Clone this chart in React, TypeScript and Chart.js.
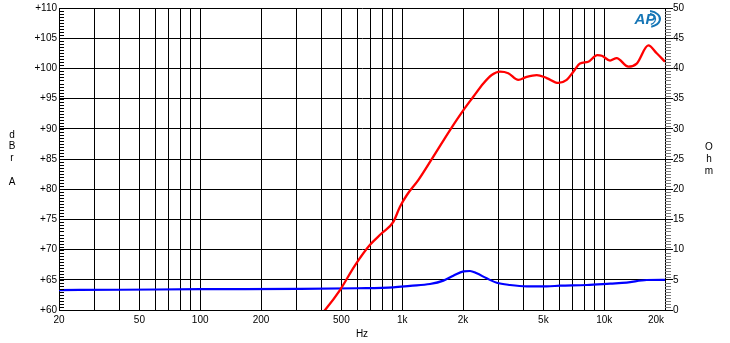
import React, { useEffect, useRef } from "react";
import { Chart, registerables } from "chart.js";

Chart.register(...registerables);

// SPL (dBrA) response
const splFreq = [390, 415, 492, 584, 693, 792, 904, 975, 1053, 1201, 1426, 1725, 2010, 2249, 2522, 2774, 3049, 3350, 3757, 4134, 4636, 5193, 5929, 6521, 7036, 7590, 8345, 9245, 9730, 10690, 11530, 13160, 14490, 16540, 18200, 20000];
const splDb = [59.0, 60.0, 63.3, 67.4, 70.8, 72.7, 74.6, 77.1, 79.0, 81.5, 85.4, 89.8, 93.1, 95.3, 97.5, 98.9, 99.45, 99.2, 98.1, 98.6, 98.9, 98.4, 97.6, 98.1, 99.45, 100.8, 101.1, 102.2, 102.1, 101.3, 101.7, 100.3, 100.8, 103.8, 102.5, 101.1];

// Impedance (Ohm)
const impFreq = [20, 40, 100, 300, 600, 904, 1094, 1373, 1599, 1791, 2010, 2167, 2339, 2620, 2937, 3418, 4134, 5193, 6040, 8190, 10690, 12920, 16240, 20000];
const impOhm = [3.3, 3.35, 3.45, 3.5, 3.6, 3.75, 4.0, 4.3, 4.86, 5.68, 6.4, 6.46, 6.07, 5.24, 4.52, 4.14, 3.92, 3.92, 4.02, 4.14, 4.36, 4.52, 4.97, 5.0];

// Axis ticks
const xGridTicks = [20, 30, 40, 50, 60, 70, 80, 90, 100, 200, 300, 400, 500, 600, 700, 800, 900, 1000, 2000, 3000, 4000, 5000, 6000, 7000, 8000, 9000, 10000, 20000];
const xLabelValues = [20, 50, 100, 200, 500, 1000, 2000, 5000, 10000, 20000];
const xLabelTexts = ["20", "50", "100", "200", "500", "1k", "2k", "5k", "10k", "20k"];
const leftTitle = ["d", "B", "r", " ", "A"];
const rightTitle = ["O", "h", "m"];

const FONT = '10px "Liberation Sans", Arial, sans-serif';

const decorPlugin = {
  id: "decor",
  afterDraw(chart: any) {
    const ctx = chart.ctx;
    const x = chart.scales.x;
    const y = chart.scales.y;
    const y2 = chart.scales.y2;
    const area = chart.chartArea;
    const L = Math.round(area.left);
    const R = Math.round(area.right);
    ctx.save();
    // minor ticks left (inside)
    ctx.fillStyle = "#000";
    for (let i = 0; i <= 100; i++) {
      const v = 60 + i * 0.5;
      const py = Math.round(y.getPixelForValue(v));
      ctx.fillRect(L, py, 5, 1);
    }
    // minor ticks right (outside)
    ctx.fillStyle = "#7a7a7a";
    for (let i = 0; i <= 100; i++) {
      if (i % 10 === 0) continue;
      const v = i * 0.5;
      const py = Math.round(y2.getPixelForValue(v));
      ctx.fillRect(R, py, 6, 1);
    }
    // x labels
    ctx.fillStyle = "#000";
    ctx.font = FONT;
    ctx.textBaseline = "top";
    xLabelValues.forEach((v, i) => {
      const px = x.getPixelForValue(v);
      const last = i === xLabelValues.length - 1;
      ctx.textAlign = last ? "right" : "center";
      ctx.fillText(xLabelTexts[i], last ? px - 1 : px, 315);
    });
    // axis titles
    ctx.textAlign = "center";
    ctx.textBaseline = "middle";
    leftTitle.forEach((c, i) => ctx.fillText(c, 12, 135 + i * 11.7));
    rightTitle.forEach((c, i) => ctx.fillText(c, 709, 147 + i * 12));
    ctx.fillText("Hz", 362, 334);
    // AP logo
    ctx.fillStyle = "#1676b6";
    ctx.strokeStyle = "#1676b6";
    ctx.font = 'italic bold 15px "Liberation Sans", Arial, sans-serif';
    ctx.textAlign = "center";
    ctx.fillText("AP", 645, 19.5);
    ctx.lineWidth = 2;
    ctx.beginPath();
    ctx.ellipse(648, 19, 12, 8, 0, -1.4, 1.3);
    ctx.stroke();
    ctx.lineWidth = 1.2;
    ctx.beginPath();
    ctx.ellipse(647, 19, 8.5, 6, 0, -1.2, 1.1);
    ctx.stroke();
    ctx.restore();
  },
};

export default function App() {
  const ref = useRef<HTMLCanvasElement | null>(null);
  useEffect(() => {
    if (!ref.current) return;
    const chart = new Chart(ref.current, {
      type: "line",
      data: {
        datasets: [
          {
            data: splFreq.map((f, i) => ({ x: f, y: splDb[i] })),
            borderColor: "#ff0000",
            borderWidth: 2.3,
            pointRadius: 0,
            cubicInterpolationMode: "monotone",
            yAxisID: "y",
          },
          {
            data: impFreq.map((f, i) => ({ x: f, y: impOhm[i] })),
            borderColor: "#0000ff",
            borderWidth: 2.2,
            pointRadius: 0,
            cubicInterpolationMode: "monotone",
            yAxisID: "y2",
          },
        ],
      },
      options: {
        responsive: false,
        animation: false,
        layout: { padding: { top: 8, left: 0, right: 0, bottom: 0 } },
        plugins: { legend: { display: false }, tooltip: { enabled: false } },
        scales: {
          x: {
            type: "logarithmic",
            min: 20,
            max: 20000,
            afterBuildTicks: (s: any) => {
              s.ticks = xGridTicks.map((v) => ({ value: v }));
            },
            afterFit: (s: any) => {
              s.height = 33;
            },
            ticks: { display: false },
            grid: { color: "#000", lineWidth: 1, drawTicks: false },
            border: { color: "#000", width: 1 },
          },
          y: {
            type: "linear",
            position: "left",
            min: 60,
            max: 110,
            afterFit: (s: any) => {
              s.width = 59;
            },
            ticks: {
              stepSize: 5,
              padding: 2,
              color: "#000",
              font: { family: '"Liberation Sans", Arial, sans-serif', size: 10 },
              callback: (v: any) => "+" + v,
            },
            grid: { color: "#000", lineWidth: 1, drawTicks: false },
            border: { color: "#000", width: 1 },
          },
          y2: {
            type: "linear",
            position: "right",
            min: 0,
            max: 50,
            afterFit: (s: any) => {
              s.width = 65;
            },
            ticks: {
              stepSize: 5,
              padding: 0,
              color: "#000",
              font: { family: '"Liberation Sans", Arial, sans-serif', size: 10 },
            },
            grid: { drawOnChartArea: false, drawTicks: true, tickLength: 8, tickColor: "#000", color: "#000" },
            border: { color: "#000", width: 1 },
          },
        },
      },
      plugins: [decorPlugin],
    } as any);
    return () => chart.destroy();
  }, []);
  return (
    <div style={{ position: "fixed", left: 0, top: 0, width: 730, height: 343, background: "#fff" }}>
      <canvas ref={ref} width={730} height={343} style={{ width: 730, height: 343, display: "block" }} />
    </div>
  );
}
